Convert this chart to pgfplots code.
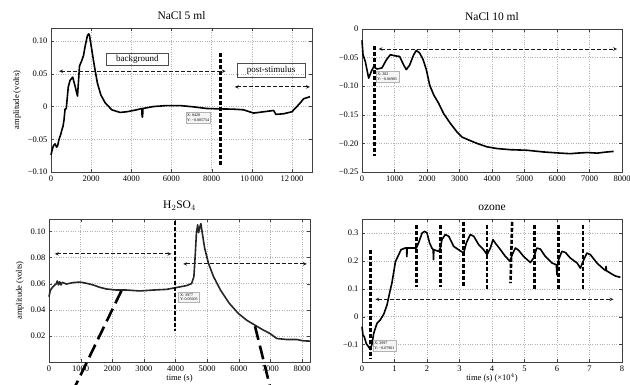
\documentclass[border=0pt]{standalone}
\usepackage{fontspec}
\setmainfont{Liberation Serif}
\usepackage{pgfplots}
\pgfplotsset{compat=1.18}
\usetikzlibrary{arrows.meta}
\pgfplotsset{
  panel/.style={
    scale only axis, anchor=south west, clip=false,
    axis line style={gray!50!black, line width=0.6pt},
    grid=major, grid style={dotted, gray!60, line width=0.5pt},
    tick align=inside, tick style={gray!50!black},
    major tick length=3pt,
    scaled ticks=false,
    /pgf/number format/1000 sep={},
    ticklabel style={font=\fontsize{8.5}{9}\selectfont},
    /pgf/number format/assume math mode=true,
    title style={font=\fontsize{11.5}{12}\selectfont, yshift=-1pt},
    label style={font=\fontsize{8.5}{9}\selectfont},
  },
  curve/.style={black, line width=1.6pt, line join=round},
  vdash/.style={black, line width=2.6pt, dash pattern=on 4pt off 2pt},
  darrow/.style={gray!20!black, line width=0.9pt, dash pattern=on 4pt off 2pt, {Stealth[length=4pt,width=3.5pt,open]}-{Stealth[length=4pt,width=3.5pt,open]}},
}
\tikzset{tipbox/.style={draw=gray!60, fill=gray!8, font=\fontsize{4}{4.6}\selectfont, align=left, inner sep=1.5pt, anchor=north west}}
\begin{document}
\begin{tikzpicture}
\path[use as bounding box] (0,0) rectangle (630pt,385pt);
% ---------- NaCl 5 ml ----------
\begin{axis}[panel, at={(51pt,213pt)}, width=261pt, height=144pt,
  xmin=0, xmax=13000, ymin=-0.10, ymax=0.12,
  xtick={0,2000,4000,6000,8000,10000,12000},
  xticklabels={0,2000,4000,6000,8000,10\,000,12\,000},
  ytick={-0.10,-0.05,0,0.05,0.10},
  yticklabels={−0.10,−0.05,0,0.05,0.10},
  title={NaCl 5 ml}, ylabel={amplitude (volts)}]
\addplot[curve] coordinates {(0,-0.074) (60,-0.066) (120,-0.060) (200,-0.057) (280,-0.062) (330,-0.060) (400,-0.050) (480,-0.043) (540,-0.036) (600,-0.030) (650,-0.020) (700,-0.004) (760,-0.003) (800,0.010) (860,0.030) (950,0.040) (1080,0.045) (1200,0.031) (1320,0.016) (1420,0.062) (1530,0.070) (1620,0.078) (1700,0.092) (1810,0.108) (1880,0.111) (1920,0.108) (2030,0.087) (2160,0.062) (2310,0.036) (2480,0.018) (2690,0.006) (3030,-0.005) (3440,-0.009) (3770,-0.008) (4270,-0.005) (4520,-0.003) (4540,-0.016) (4560,-0.016) (4580,-0.003) (5100,0.0) (5770,0.0015) (6430,0.0015) (7100,-0.0005) (7760,-0.003) (8430,-0.0036) (9090,-0.004) (9590,-0.005) (10090,-0.010) (10590,-0.008) (11090,-0.006) (11200,-0.012) (11590,-0.011) (12000,-0.008) (12340,0.003) (12590,0.012) (12900,0.015)};
\addplot[vdash] coordinates {(8428,0.082) (8428,-0.089)};
\addplot[darrow] coordinates {(400,0.054) (8700,0.054)};
\addplot[darrow] coordinates {(9150,0.030) (12900,0.030)};
\node[draw=gray!60!black, line width=0.6pt, font=\fontsize{9}{10}\selectfont, minimum width=62pt, minimum height=12pt, inner sep=1pt] at (axis cs:4300,0.072) {background};
\node[draw=gray!60!black, line width=0.6pt, font=\fontsize{9}{10}\selectfont, minimum width=68pt, minimum height=14pt, inner sep=1pt] at (axis cs:10960,0.0555) {post-stimulus};
\node[tipbox] at (axis cs:6700,-0.009) {X: 8428\\Y: −0.005754};
\end{axis}
% ---------- NaCl 10 ml ----------
\begin{axis}[panel, at={(362pt,213pt)}, width=260pt, height=143pt,
  xmin=0, xmax=8000, ymin=-0.25, ymax=0,
  xtick={0,1000,...,8000},
  ytick={-0.25,-0.20,-0.15,-0.10,-0.05,0},
  yticklabels={−0.25,−0.20,−0.15,−0.10,−0.05,0},
  title={NaCl 10 ml}]
\addplot[curve] coordinates {(0,-0.02) (31,-0.045) (103,-0.057) (205,-0.086) (287,-0.074) (359,-0.066) (462,-0.070) (615,-0.068) (749,-0.054) (872,-0.045) (1026,-0.047) (1159,-0.048) (1282,-0.063) (1364,-0.071) (1467,-0.063) (1590,-0.045) (1672,-0.0375) (1774,-0.042) (1877,-0.053) (1979,-0.071) (2082,-0.098) (2205,-0.115) (2359,-0.130) (2513,-0.148) (2718,-0.165) (2923,-0.180) (3077,-0.189) (3282,-0.194) (3538,-0.200) (3846,-0.206) (4154,-0.209) (4564,-0.211) (5077,-0.212) (5590,-0.215) (6103,-0.217) (6410,-0.218) (6615,-0.217) (6923,-0.216) (7231,-0.217) (7538,-0.215) (7744,-0.214)};
\addplot[vdash] coordinates {(382,-0.030) (382,-0.222)};
\addplot[darrow] coordinates {(510,-0.035) (7850,-0.035)};
\node[tipbox] at (axis cs:420,-0.074) {X: 382\\Y: −0.06985};
\end{axis}
% ---------- H2SO4 ----------
\begin{axis}[panel, at={(49pt,23pt)}, width=261pt, height=143pt,
  xmin=0, xmax=8250, ymin=0, ymax=0.1095,
  xtick={0,1000,...,8000},
  ytick={0.02,0.04,0.06,0.08,0.10},
  yticklabels={0.02,0.04,0.06,0.08,0.10},
  title={H$_2$SO$_4$}, ylabel={amplitude (volts)}, xlabel={time (s)},
  xlabel style={yshift=4pt}]
\addplot[gray!30!black, line width=1.6pt, line join=round] coordinates {(0,0.050) (42,0.055) (127,0.0577) (232,0.060) (260,0.062) (300,0.059) (338,0.0615) (380,0.059) (420,0.061) (549,0.0597) (760,0.0608) (971,0.0612) (1182,0.0603) (1393,0.059) (1604,0.0572) (1815,0.0559) (2132,0.0551) (2449,0.0551) (2871,0.0544) (3293,0.0551) (3715,0.0556) (4000,0.0569) (4348,0.0585) (4507,0.060) (4580,0.0654) (4620,0.0808) (4660,0.0987) (4700,0.105) (4730,0.099) (4760,0.1026) (4800,0.106) (4850,0.098) (4920,0.0872) (5040,0.0756) (5200,0.0654) (5420,0.0551) (5700,0.0449) (5984,0.0372) (6248,0.032) (6512,0.0282) (6776,0.0244) (6987,0.0218) (7198,0.018) (7515,0.0172) (7831,0.0172) (8042,0.0162) (8250,0.016)};
\addplot[vdash] coordinates {(3977,0.108) (3977,0.024)};
\addplot[darrow] coordinates {(180,0.0828) (3870,0.0828)};
\addplot[darrow] coordinates {(4240,0.0751) (8150,0.0751)};
\node[tipbox] at (axis cs:4090,0.0538) {X: 3977\\Y: 0.05603};
\addplot[black, line width=2.6pt, dash pattern=on 14pt off 6pt] coordinates {(2290,0.0546) (600,-0.030)};
\addplot[black, line width=2.6pt, dash pattern=on 14pt off 6pt] coordinates {(6512,0.0274) (7100,-0.030)};
\end{axis}
% ---------- ozone ----------
\begin{axis}[panel, at={(362pt,23pt)}, width=260pt, height=143pt,
  xmin=0, xmax=8, ymin=-0.1625, ymax=0.35,
  xtick={0,1,...,8},
  ytick={-0.1,0,0.1,0.2,0.3},
  yticklabels={−0.1,0,0.1,0.2,0.3},
  title={ozone}, xlabel={time (s) (×10$^4$)}, xlabel style={yshift=4pt}]
\addplot[curve] coordinates {(0,-0.036) (0.03,-0.066) (0.07,-0.072) (0.13,-0.096) (0.2,-0.108) (0.26,-0.118) (0.31,-0.096) (0.36,-0.06) (0.46,-0.024) (0.56,-0.012) (0.67,0.009) (0.77,0.042) (0.87,0.096) (0.92,0.12) (1.03,0.198) (1.13,0.222) (1.2,0.24) (1.33,0.246) (1.37,0.246) (1.38,0.215) (1.39,0.246) (1.5,0.246) (1.67,0.246) (1.74,0.264) (1.85,0.30) (1.93,0.306) (2.0,0.30) (2.08,0.264) (2.15,0.246) (2.19,0.24) (2.20,0.205) (2.21,0.24) (2.36,0.234) (2.41,0.246) (2.46,0.276) (2.56,0.294) (2.67,0.288) (2.82,0.252) (2.97,0.24) (3.13,0.228) (3.21,0.264) (3.33,0.294) (3.44,0.288) (3.59,0.258) (3.74,0.24) (3.85,0.222) (3.95,0.246) (4.03,0.276) (4.1,0.264) (4.26,0.24) (4.41,0.216) (4.56,0.198) (4.62,0.222) (4.72,0.246) (4.82,0.238) (4.97,0.216) (5.18,0.194) (5.28,0.21) (5.38,0.246) (5.49,0.242) (5.64,0.216) (5.85,0.192) (5.98,0.186) (6.0,0.15) (6.02,0.186) (6.05,0.204) (6.15,0.234) (6.26,0.23) (6.41,0.21) (6.62,0.192) (6.72,0.174) (6.8,0.198) (6.92,0.228) (7.03,0.222) (7.23,0.192) (7.44,0.17) (7.5,0.165) (7.51,0.18) (7.52,0.165) (7.64,0.156) (7.79,0.146) (7.95,0.141)};
\addplot[vdash] coordinates {(0.26,0.24) (0.26,-0.15)};
\addplot[vdash] coordinates {(1.67,0.33) (1.67,0.105)};
\addplot[vdash] coordinates {(2.41,0.33) (2.41,0.105)};
\addplot[vdash] coordinates {(3.13,0.34) (3.13,0.11)};
\addplot[vdash] coordinates {(3.85,0.33) (3.85,0.10)};
\addplot[vdash] coordinates {(4.62,0.34) (4.57,0.12)};
\addplot[vdash] coordinates {(5.3,0.33) (5.3,0.10)};
\addplot[vdash] coordinates {(6.05,0.33) (6.05,0.095)};
\addplot[vdash] coordinates {(6.8,0.33) (6.8,0.10)};
\addplot[darrow] coordinates {(0.41,0.062) (7.74,0.062)};
\node[tipbox] at (axis cs:0.33,-0.085) {X: 2997\\Y: −0.07901};
\end{axis}
\end{tikzpicture}
\end{document}
